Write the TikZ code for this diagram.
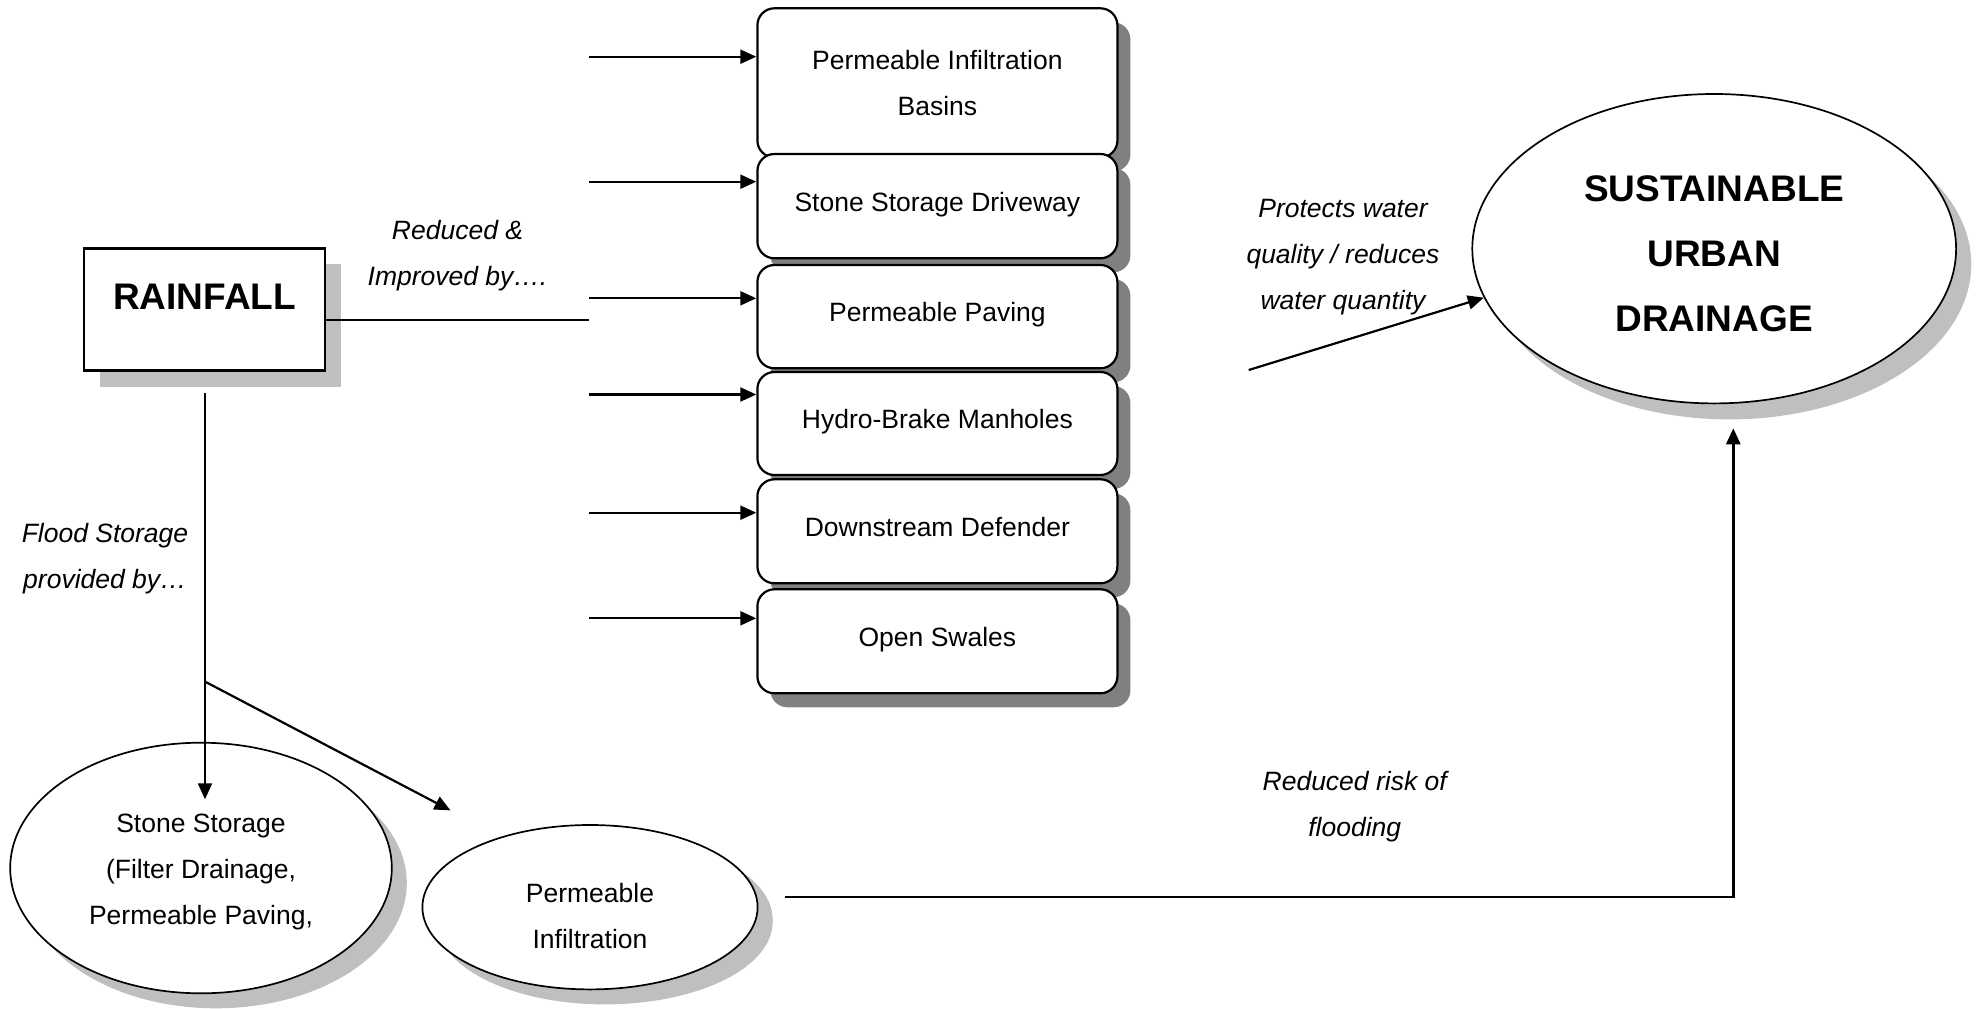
\documentclass[tikz,border=0pt]{standalone}
\usepackage{fontspec}
\setmainfont{Liberation Sans}
\usetikzlibrary{arrows.meta,shapes.geometric,shadows}

\begin{document}
\begin{tikzpicture}[x=1pt,y=-1pt,
  struts/.code 2 args={\def\sr{\rule[-#2]{0pt}{#1}}},
  plain/.style={inner sep=0pt, align=center, font=\fontsize{26.5}{46}\selectfont},
  ital/.style={inner sep=0pt, align=center, font=\fontsize{26.5}{46}\selectfont\itshape, struts={40pt}{10.5pt}},
  heavy/.style={inner sep=0pt, align=center, font=\fontsize{37}{65}\selectfont\bfseries},
  method/.style={plain, draw, line width=2.2pt, rounded corners=17pt, fill=white,
    minimum width=360pt, struts={40pt}{15pt},
    drop shadow={shadow xshift=13pt, shadow yshift=-14pt, fill=black!50, opacity=1}},
  oval/.style={plain, ellipse, draw, line width=1.7pt, fill=white,
    drop shadow={shadow xshift=15pt, shadow yshift=-15pt, fill=black!25, opacity=1}},
  link/.style={line width=2.2pt},
  arr/.style={line width=2.2pt, -{Triangle[length=16pt,width=14pt]}}]

\useasboundingbox (0,0) rectangle (1979,1009);

% source box
\node[heavy, draw, line width=2.5pt, fill=white, minimum width=240.8pt, minimum height=122.4pt,
  struts={60pt}{29.55pt},
  drop shadow={shadow xshift=16pt, shadow yshift=-16pt, fill=black!25, opacity=1}]
  (rain) at (204.6,309.5) {\sr RAINFALL\sr};

% column of drainage measures
\node[method, minimum height=149.2pt, struts={40pt}{10.5pt}] (b1) at (937.4,82.9)
  {\sr Permeable Infiltration\\Basins\sr};
\node[method, minimum height=104.3pt] (b2) at (937.4,206.15) {\sr Stone Storage Driveway\sr};
\node[method, minimum height=103.3pt] (b3) at (937.4,316.65) {\sr Permeable Paving\sr};
\node[method, minimum height=103pt]   (b4) at (937.4,423.5)  {\sr Hydro-Brake Manholes\sr};
\node[method, minimum height=104pt]   (b5) at (937.4,531.3)  {\sr Downstream Defender\sr};
\node[method, minimum height=104pt]   (b6) at (937.4,641.3)  {\sr Open Swales\sr};

% goal
\node[oval, heavy, minimum width=483.8pt, minimum height=309.4pt, struts={60pt}{12.15pt},
  drop shadow={shadow xshift=15pt, shadow yshift=-16pt, fill=black!25, opacity=1}]
  (sud) at (1714.2,248.7) {\sr SUSTAINABLE\\URBAN\\DRAINAGE\sr};

% flood storage options
\node[oval, minimum width=381.6pt, minimum height=250.6pt, struts={40pt}{9.5pt}]
  (stone) at (201,868) {\sr Stone Storage\\(Filter Drainage,\\Permeable Paving,\sr};
\node[oval, minimum width=335.2pt, minimum height=164.4pt, struts={40pt}{1.9pt},
  drop shadow={shadow xshift=15pt, shadow yshift=-12pt, fill=black!25, opacity=1}]
  (perm) at (590,907.2) {\sr Permeable\\Infiltration\sr};

% labels
\node[ital] (lred) at (457.5,253) {\sr Reduced \&\\Improved by….\sr};
\node[ital] (lprot) at (1343,254.2) {\sr Protects water\\quality / reduces\\water quantity\sr};
\node[ital] (lflood) at (105,556.3) {\sr Flood Storage\\provided by…\sr};
\node[ital] (lrisk) at (1354.7,804.2) {\sr Reduced risk of\\flooding\sr};

% free ends of connectors
\coordinate (h1) at (589,320);
\coordinate (a1) at (589,56.7);
\coordinate (a2) at (589,181.7);
\coordinate (a3) at (589,298.3);
\coordinate (a4) at (589,394.5);
\coordinate (a5) at (589,512.7);
\coordinate (a6) at (589,618.3);
\coordinate (v0) at (205,392.7);
\coordinate (vtip) at (205,799.3);
\coordinate (d0) at (205,681.6);
\coordinate (dtip) at (450.5,810.4);
\coordinate (q0) at (1248.7,370);
\coordinate (f0) at (785,897);
\coordinate (fc) at (1733.3,897);
\coordinate (ftip) at (1733.3,428.3);

% connectors
\draw[link] (rain.east |- h1) -- (h1);
\foreach \i in {1,...,6} \draw[arr] (a\i) -- (a\i -| b\i.west);
\draw[arr] (v0) -- (vtip);
\draw[arr] (d0) -- (dtip);
\draw[arr] (q0) -- (sud.192);
\draw[arr, line width=2.8pt] (f0) -- (fc) -- (ftip);
\end{tikzpicture}
\end{document}
